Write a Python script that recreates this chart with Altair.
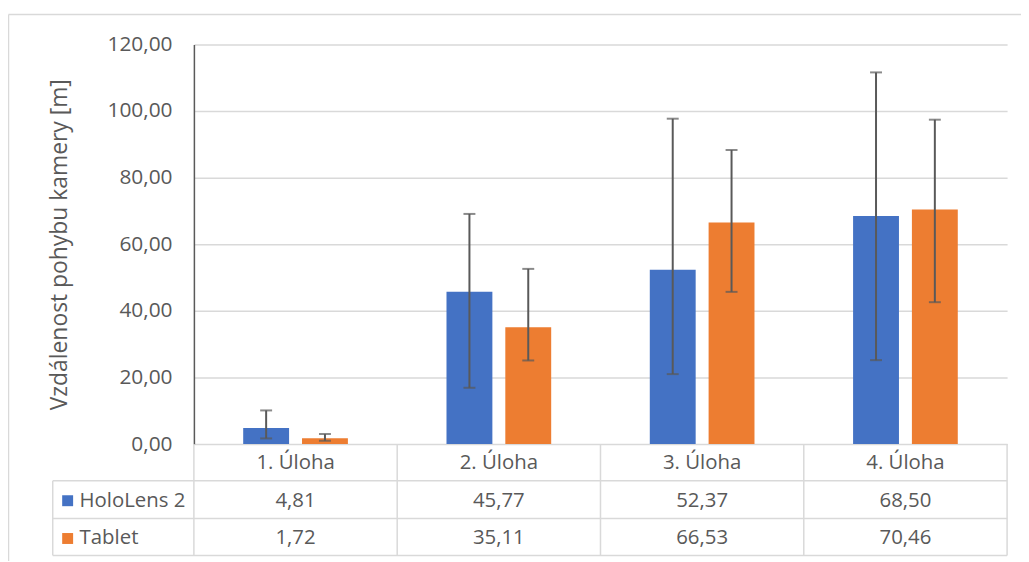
import altair as alt
import pandas as pd

categories = ["1. Úloha", "2. Úloha", "3. Úloha", "4. Úloha"]
series = ["HoloLens 2", "Tablet"]
colors = ["#4472C4", "#ED7D31"]
holo = [4.81, 45.77, 52.37, 68.50]
tablet = [1.72, 35.11, 66.53, 70.46]
holo_low = [1.7, 16.9, 21.0, 25.2]
holo_high = [10.1, 69.1, 97.7, 111.6]
tablet_low = [1.0, 25.1, 45.7, 42.6]
tablet_high = [3.0, 52.6, 88.3, 97.4]
y_ticks = [0, 20, 40, 60, 80, 100, 120]
y_title = "Vzdálenost pohybu kamery [m]"

rows = []
for i, c in enumerate(categories):
    rows.append(dict(cat=c, series=series[0], value=holo[i], low=holo_low[i], high=holo_high[i], row=1))
    rows.append(dict(cat=c, series=series[1], value=tablet[i], low=tablet_low[i], high=tablet_high[i], row=2))
df = pd.DataFrame(rows)
df["label"] = df["value"].map(lambda v: f"{v:.2f}".replace(".", ","))
hdr = pd.DataFrame({"cat": categories, "row": [0] * len(categories)})
leg = pd.DataFrame({"series": series, "row": [1, 2]})

W, H = 818, 402
FONT = "Open Sans"
GREY = "#595959"
GRID = "#d9d9d9"
FS = 20.5

xenc = alt.X("cat:N", scale=alt.Scale(domain=categories, paddingInner=0.485, paddingOuter=0.2425), axis=None)
xoff = alt.XOffset("series:N", scale=alt.Scale(domain=series, paddingInner=0.22))
color = alt.Color("series:N", scale=alt.Scale(domain=series, range=colors), legend=None)
yscale = alt.Scale(domain=[0, 120], nice=False)
yaxis = alt.Axis(values=y_ticks,
                 labelExpr="replace(format(datum.value, '.2f'), '.', ',')",
                 title=y_title, ticks=False, labelPadding=22, titlePadding=36,
                 grid=True, gridColor=GRID, gridWidth=1.5,
                 domainColor=GREY, domainWidth=1.5,
                 labelFont=FONT, labelFontSize=21, labelColor=GREY,
                 titleFont=FONT, titleFontSize=23, titleColor=GREY, titleFontWeight="normal")

bars = alt.Chart(df).mark_bar().encode(
    x=xenc, xOffset=xoff, color=color,
    y=alt.Y("value:Q", scale=yscale, axis=yaxis, title=y_title),
)
err = alt.Chart(df).mark_rule(color=GREY, strokeWidth=2).encode(
    x=xenc, xOffset=xoff, y=alt.Y("low:Q", scale=yscale, axis=yaxis, title=y_title), y2="high:Q")
cap_lo = alt.Chart(df).mark_tick(color=GREY, thickness=2, size=12).encode(
    x=xenc, xOffset=xoff, y=alt.Y("low:Q", scale=yscale, axis=yaxis, title=y_title))
cap_hi = alt.Chart(df).mark_tick(color=GREY, thickness=2, size=12).encode(
    x=xenc, xOffset=xoff, y=alt.Y("high:Q", scale=yscale, axis=yaxis, title=y_title))
plot = alt.layer(bars, err, cap_lo, cap_hi)

rowscale = alt.Scale(domain=[0, 2], range=[421, 497])
hdr_text = alt.Chart(hdr).mark_text(font=FONT, fontSize=FS, color=GREY).encode(
    x=xenc, y=alt.Y("row:Q", scale=rowscale, axis=None), text="cat:N")
val_text = alt.Chart(df).mark_text(font=FONT, fontSize=FS, color=GREY).encode(
    x=xenc, y=alt.Y("row:Q", scale=rowscale, axis=None), text="label:N")
leg_sq = alt.Chart(leg).mark_square(size=121, opacity=1).encode(
    x=alt.value(-127), y=alt.Y("row:Q", scale=rowscale, axis=None), color=color)
leg_text = alt.Chart(leg).mark_text(font=FONT, fontSize=FS, color=GREY, align="left").encode(
    x=alt.value(-115), y=alt.Y("row:Q", scale=rowscale, axis=None), text="series:N")

one = pd.DataFrame({"a": [0]})
lines = []
step = W / 4
for i in range(5):
    lines.append(alt.Chart(one).mark_rule(color=GRID, strokeWidth=1.5).encode(
        x=alt.value(i * step), y=alt.value(402), y2=alt.value(514)))
for yy in [439, 477, 514]:
    lines.append(alt.Chart(one).mark_rule(color=GRID, strokeWidth=1.5).encode(
        x=alt.value(-142), x2=alt.value(W), y=alt.value(yy)))
lines.append(alt.Chart(one).mark_rule(color=GRID, strokeWidth=1.5).encode(
    x=alt.value(-142), y=alt.value(439), y2=alt.value(514)))
# outer chart border
lines.append(alt.Chart(one).mark_rule(color=GRID, strokeWidth=1.5).encode(
    x=alt.value(-186.5), x2=alt.value(840), y=alt.value(-30)))
lines.append(alt.Chart(one).mark_rule(color=GRID, strokeWidth=1.5).encode(
    x=alt.value(-186.5), y=alt.value(-30), y2=alt.value(560)))

table = alt.layer(*lines, hdr_text, val_text, leg_sq, leg_text)

chart = alt.layer(plot, table).resolve_scale(y="independent").properties(
    width=W, height=H,
    autosize=alt.AutoSizeParams(type="none"),
    padding={"left": 187, "top": 35, "right": 14, "bottom": 116},
).configure_view(stroke=None)

chart.save("out.html", embed_options={"renderer": "svg", "actions": False})
